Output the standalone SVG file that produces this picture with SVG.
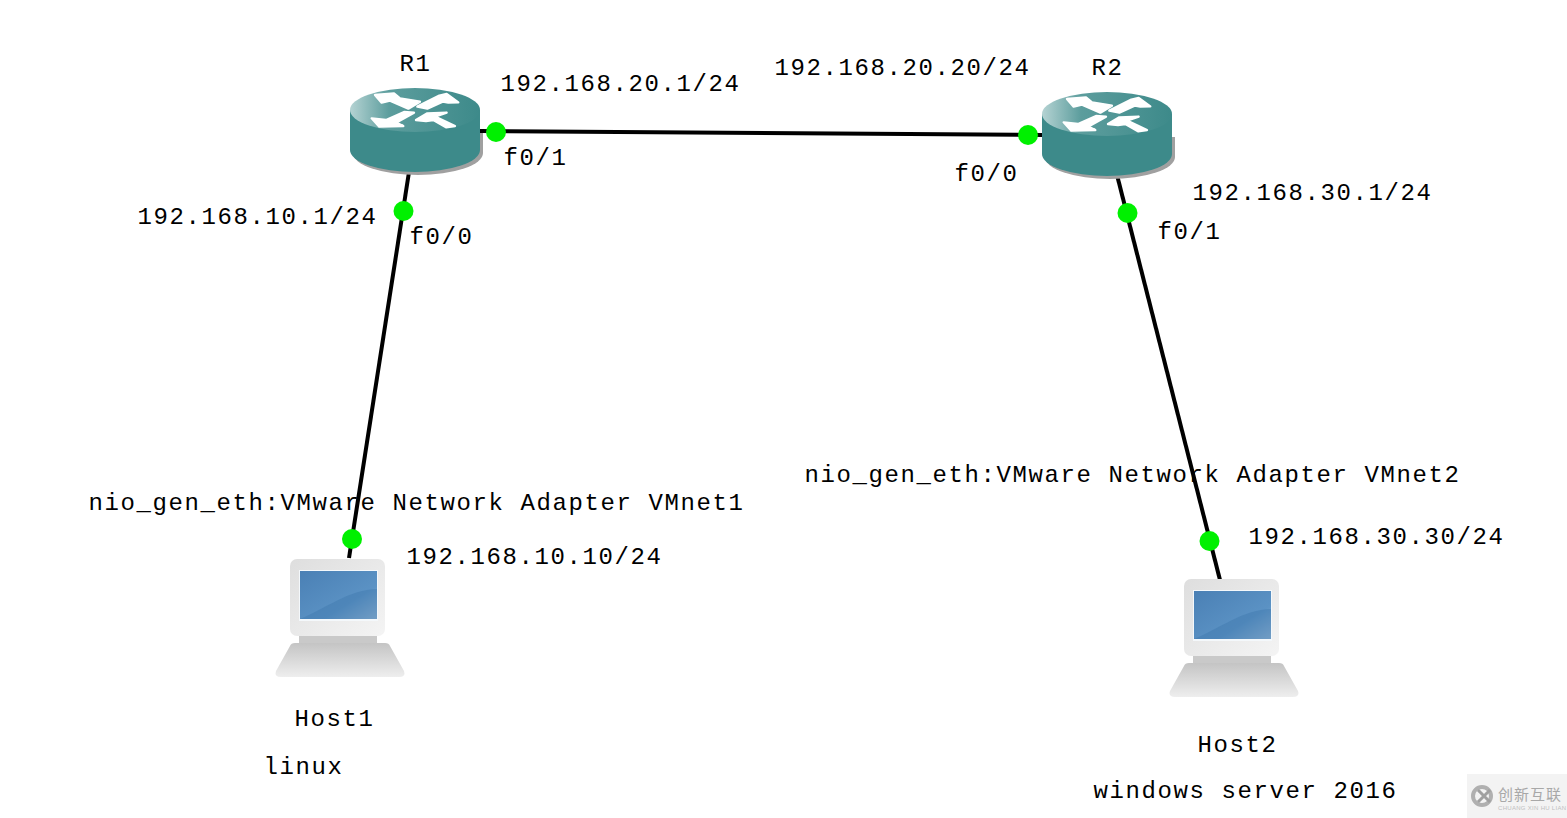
<svg xmlns="http://www.w3.org/2000/svg" width="1567" height="818" viewBox="0 0 1567 818">
<style>
text{font-family:"Liberation Mono","Noto Sans CJK SC",monospace;font-size:24px;letter-spacing:1.6px;fill:#000}
.link{stroke:#000;stroke-width:4;fill:none}
.dot{fill:#00f000}
</style>
<defs>
<linearGradient id="rt" x1="0" x2="1" y1="0" y2="0"><stop offset="0" stop-color="#b5d3d3"/><stop offset=".3" stop-color="#5c9d9d"/><stop offset="1" stop-color="#3d8a8a"/></linearGradient>
<linearGradient id="bez" x1="0" x2="1" y1="0" y2="1"><stop offset="0" stop-color="#dedede"/><stop offset="1" stop-color="#f4f4f4"/></linearGradient>
<linearGradient id="scr" x1="0" x2="1" y1="0" y2="1"><stop offset="0" stop-color="#4a80b5"/><stop offset=".65" stop-color="#5b92c4"/><stop offset="1" stop-color="#9dbcd8"/></linearGradient>
<linearGradient id="base" x1="0" x2="0" y1="0" y2="1"><stop offset="0" stop-color="#c4c4c4"/><stop offset="1" stop-color="#eeeeee"/></linearGradient>
<g id="router">
<path d="M3 45V65A65 22 0 0 0 133 65V45Z" fill="#a0a0a0"/>
<path d="M0 22V62A65 22 0 0 0 130 62V22Z" fill="#3d8a8a"/>
<ellipse cx="65" cy="22" rx="65" ry="22" fill="url(#rt)"/>
<g transform="scale(.3333) translate(-30 -54)" fill="#fff" stroke="#fff" stroke-width="7" stroke-linejoin="round">
<path d="M105 75L162 70 180 85 240 95 205 116 150 92 125 98Z"/>
<path d="M355 97L320 72 295 78 232 110 262 116 308 95 325 98Z"/>
<path d="M95 145L118 170 190 168 168 158 222 128 192 126 138 150Z"/>
<path d="M345 168L318 172 280 150 258 153 228 150 262 130 320 128 285 140Z"/>
</g>
</g>
<g id="pc">
<rect x="0" y="0" width="95" height="77" rx="7" fill="url(#bez)"/>
<rect x="9" y="11" width="79" height="51" fill="#f4f8fb"/>
<rect x="10" y="12" width="77" height="48" fill="url(#scr)"/>
<path d="M10 60C35 50 60 30 87 30V60Z" fill="#3f78ae" fill-opacity=".45"/>
<rect x="9" y="77" width="78" height="8" fill="#c9c9c9"/>
<path d="M5 84Q1 84 0 87L-14 112Q-16 118 -9 118H109Q116 118 114 112L100 87Q99 84 95 84Z" fill="url(#base)"/>
</g>
</defs>
<rect width="1567" height="818" fill="#fff"/>
<g id="connectors">
<path class="link" d="M480 131L1042 135"/>
<path class="link" d="M409 172L349 558"/>
<path class="link" d="M1117 175L1220 580"/>
</g>
<g id="R1"><use href="#router" x="350" y="88"/><text x="399.500" y="71">R1</text></g>
<g id="R2"><use href="#router" x="1042" y="92"/><text x="1091.500" y="75">R2</text></g>
<g id="Host1"><use href="#pc" x="290" y="559"/><text x="294.500" y="726">Host1</text><text x="263.500" y="774">linux</text></g>
<g id="Host2"><use href="#pc" x="1184" y="579"/><text x="1197.500" y="752">Host2</text><text x="1093.500" y="798">windows server 2016</text></g>
<g id="ports">
<circle class="dot" cx="496" cy="132" r="10"/>
<circle class="dot" cx="1028" cy="135" r="10"/>
<circle class="dot" cx="403.500" cy="211" r="10"/>
<circle class="dot" cx="1127.500" cy="213" r="10"/>
<circle class="dot" cx="352" cy="539" r="10"/>
<circle class="dot" cx="1209.500" cy="541" r="10"/>
</g>
<g id="labels">
<text x="500.500" y="91">192.168.20.1/24</text>
<text x="774.500" y="75">192.168.20.20/24</text>
<text x="503.500" y="165">f0/1</text>
<text x="954.500" y="181">f0/0</text>
<text x="137.500" y="224">192.168.10.1/24</text>
<text x="409.500" y="244">f0/0</text>
<text x="1192.500" y="200">192.168.30.1/24</text>
<text x="1157.500" y="239">f0/1</text>
<text x="88.500" y="510">nio_gen_eth:VMware Network Adapter VMnet1</text>
<text x="804.500" y="482">nio_gen_eth:VMware Network Adapter VMnet2</text>
<text x="406.500" y="564">192.168.10.10/24</text>
<text x="1248.500" y="544">192.168.30.30/24</text>
</g>
<g id="watermark">
<rect x="1467" y="774" width="100" height="44" fill="#f3f3f3"/>
<circle cx="1482" cy="796" r="9" fill="none" stroke="#b0b0b0" stroke-width="4"/>
<path d="M1478 790L1490 802M1490 790L1478 802" stroke="#a0a0a0" stroke-width="3"/>
<text x="1498" y="800" style="font-family:'Noto Sans CJK SC',sans-serif;font-size:15px;letter-spacing:1px;fill:#a8a8a8">创新互联</text>
<text x="1498" y="810" style="font-family:'Liberation Sans',sans-serif;font-size:6px;letter-spacing:.3px;fill:#c0c0c0">CHUANG XIN HU LIAN</text>
</g>
</svg>
